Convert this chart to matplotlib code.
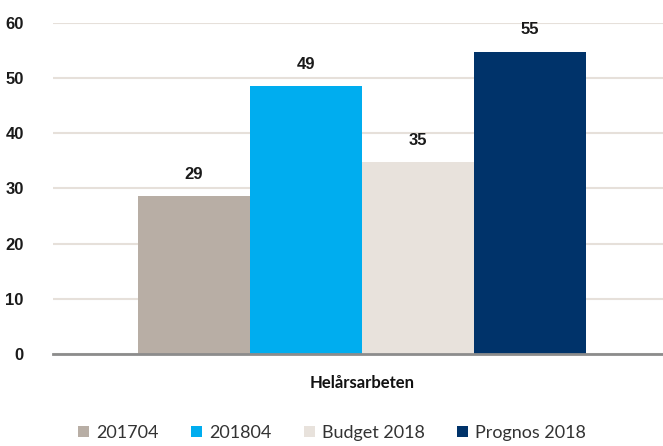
import matplotlib
matplotlib.use("Agg")
import matplotlib.pyplot as plt
from matplotlib.patches import Patch

categories = ["Helårsarbeten"]
series = ["201704", "201804", "Budget 2018", "Prognos 2018"]
values = [28.6, 48.6, 34.8, 54.8]
labels = ["29", "49", "35", "55"]
colors = ["#b8aea5", "#00adef", "#e8e2dc", "#00336a"]
yticks = [0, 10, 20, 30, 40, 50, 60]

fig = plt.figure(figsize=(6.63, 4.46), dpi=100)
ax = fig.add_axes([53/663, 92/446, 610/663, (354-23)/446])

w = 112/610
shift = 4/610
offsets = [-1.5, -0.5, 0.5, 1.5]
for off, v, lab, c in zip(offsets, values, labels, colors):
    ax.bar(off * w + shift, v, width=w, color=c, zorder=2)
    ax.text(off * w + shift, v + 2.6, lab, ha="center", va="bottom",
            fontsize=12, fontweight="bold", family="Liberation Sans", color="#1a1a1a")

ax.set_xlim(-0.5, 0.5)
ax.set_ylim(0, 60)
ax.set_yticks(yticks)
ax.set_yticklabels([str(t) for t in yticks], fontsize=12, fontweight="bold",
                   family="Liberation Sans", color="#1a1a1a")
ax.tick_params(axis="y", length=0, pad=21)
ax.set_xticks([shift])
ax.set_xticklabels(categories, fontsize=12, fontweight="bold", family="Lato", color="#111111")
ax.tick_params(axis="x", length=0, pad=15)

ax.grid(axis="y", color="#e6e0da", linewidth=1.5, zorder=0)
for s in ["left", "right", "top"]:
    ax.spines[s].set_visible(False)
ax.spines["bottom"].set_color("#8c8c8c")
ax.spines["bottom"].set_linewidth(2)
ax.spines["bottom"].set_zorder(3)

handles = [Patch(facecolor=c, edgecolor="none") for c in colors]
fig.legend(handles, series, loc="center", bbox_to_anchor=(332/663, 1 - 433/446),
           ncol=4, frameon=False, prop={"family": "Lato", "size": 13},
           handlelength=0.6, handleheight=0.6, handletextpad=0.4, columnspacing=1.8,
           labelcolor="#333333")

fig.savefig("out.png", dpi=100)
